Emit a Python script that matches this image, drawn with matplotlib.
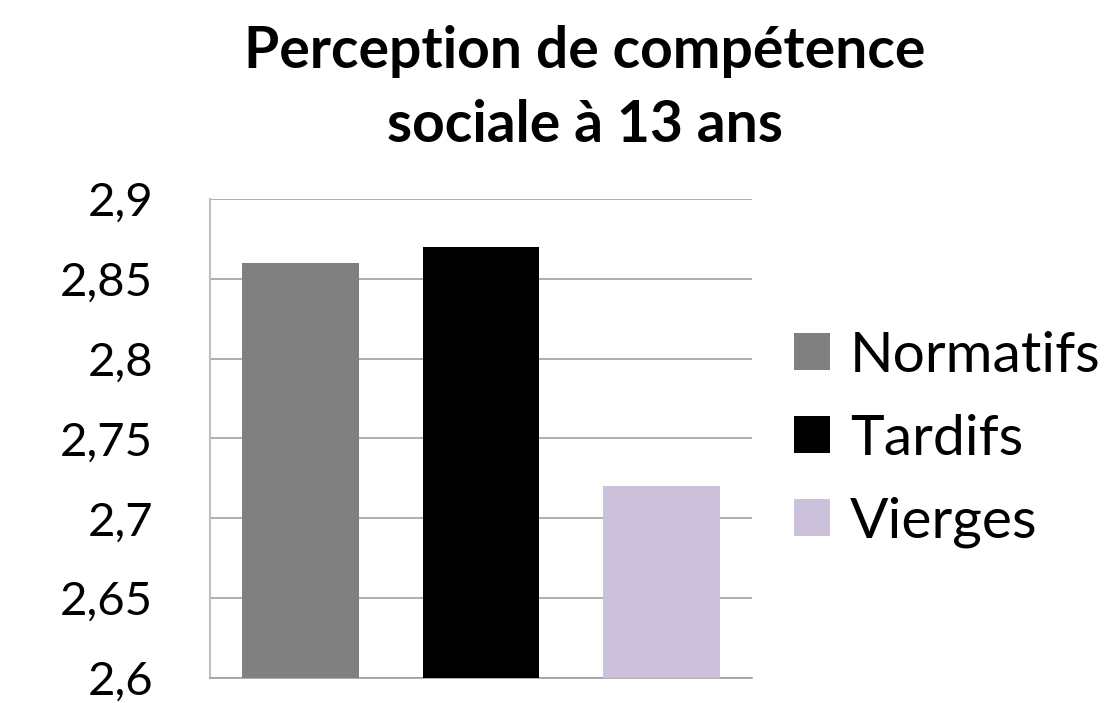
import matplotlib
matplotlib.use('Agg')
import matplotlib.pyplot as plt
from matplotlib.patches import Patch
from matplotlib.ticker import FuncFormatter

groups = ['Normatifs', 'Tardifs', 'Vierges']
values = [2.86, 2.87, 2.72]
colors = ['#808080', '#000000', '#CCC1DA']
yticks = [2.6, 2.65, 2.7, 2.75, 2.8, 2.85, 2.9]

plt.rcParams['font.family'] = ['Lato', 'DejaVu Sans']

fig = plt.figure(figsize=(11.12, 7.03), dpi=100)
ax = fig.add_axes([0.1888, 0.0356, 0.4875, 0.6813])

x = range(len(groups))
ax.bar(x, values, width=0.645, color=colors, zorder=3)
ax.set_xlim(-0.5, 2.5)
ax.set_ylim(2.6, 2.9)
ax.set_yticks(yticks)
ax.yaxis.set_major_formatter(FuncFormatter(lambda v, p: ('%g' % round(v, 2)).replace('.', ',')))
ax.set_xticks([])
ax.tick_params(axis='y', length=0, pad=41, labelsize=34)
ax.grid(axis='y', color='#A0A0A0', linewidth=1.2, zorder=0)
for s in ['top', 'right']:
    ax.spines[s].set_visible(False)
ax.spines['left'].set_color('#BFBFBF')
ax.spines['left'].set_linewidth(1.5)
ax.spines['bottom'].set_color('#A0A0A0')
ax.spines['bottom'].set_linewidth(1.2)

fig.text(0.526, 0.874, 'Perception de compétence\nsociale à 13 ans', ha='center', va='center',
         fontsize=41, fontweight='bold', linespacing=1.5)

handles = [Patch(facecolor=c, edgecolor='none') for c in colors]
fig.legend(handles, groups, loc='center left', bbox_to_anchor=(0.714, 0.375), frameon=False,
           fontsize=41, handlelength=0.63, handleheight=0.63, handletextpad=0.35,
           labelspacing=0.56, borderpad=0, borderaxespad=0)

fig.savefig('out.png', dpi=100)
